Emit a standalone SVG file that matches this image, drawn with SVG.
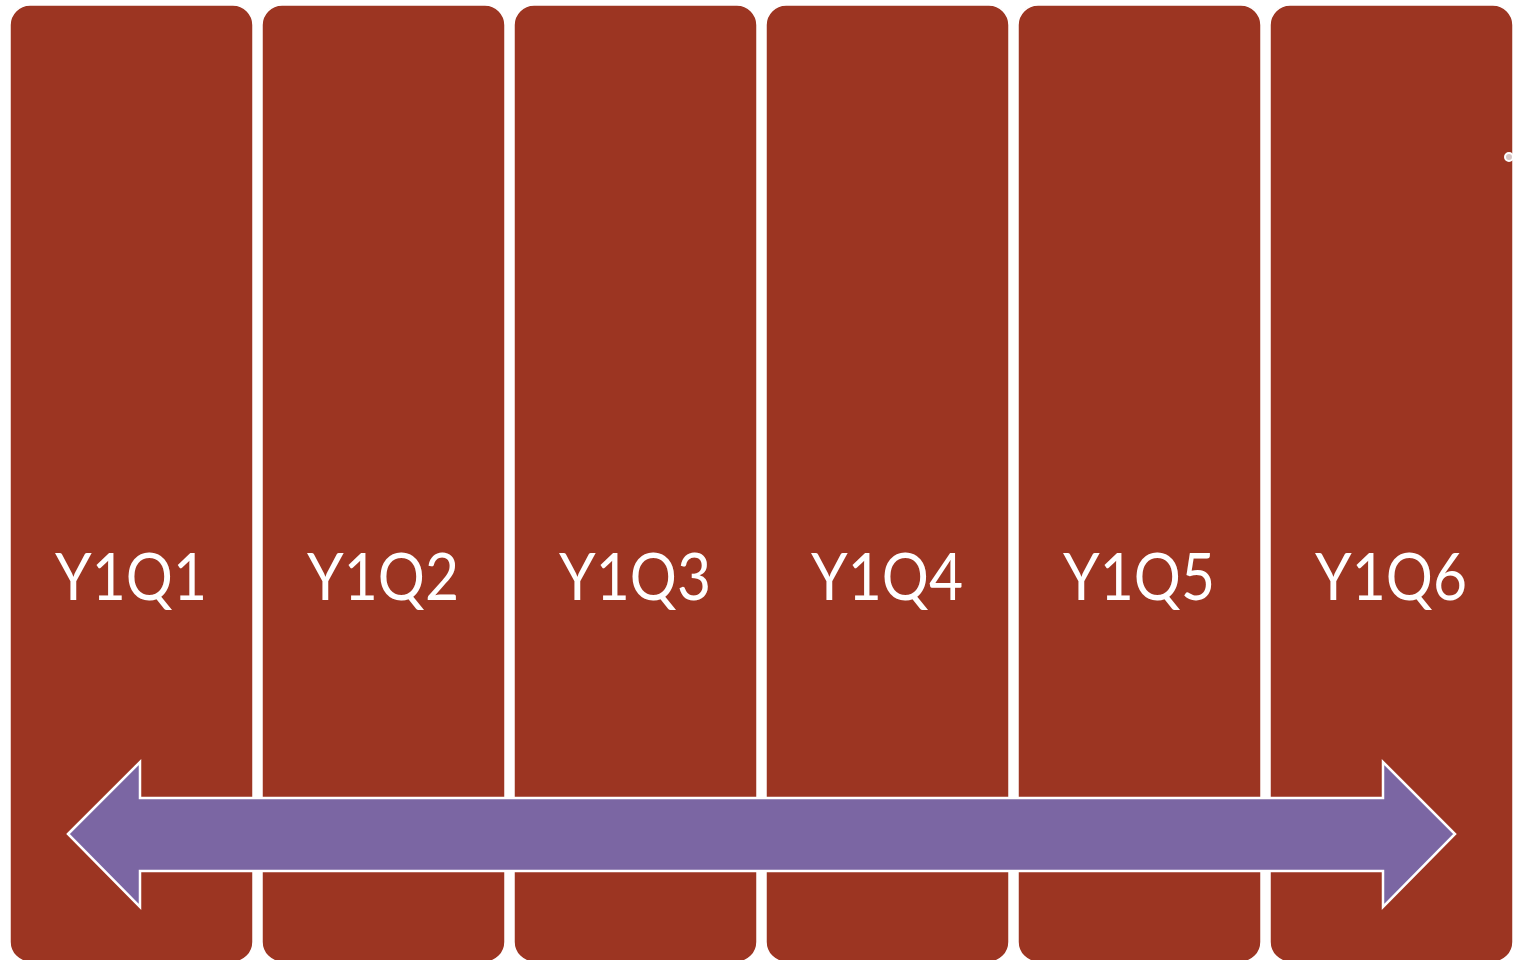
<svg xmlns="http://www.w3.org/2000/svg" width="1515" height="960" viewBox="0 0 1515 960">
<style>
.col{fill:#9C3522;stroke:#ffffff;stroke-width:1.5}
.lbl{font-family:Lato,"Liberation Sans",Arial,sans-serif;font-size:66px;fill:#ffffff;text-anchor:middle}
.arrow{fill:#7B66A3;stroke:#ffffff;stroke-width:2.5}
</style>
<rect width="1515" height="960" fill="#ffffff"/>
<g id="node-y1q1"><rect class="col" x="10" y="5" width="243" height="957" rx="20"/><text class="lbl" x="131" y="600" textLength="152" lengthAdjust="spacingAndGlyphs">Y1Q1</text></g>
<g id="node-y1q2"><rect class="col" x="262" y="5" width="243" height="957" rx="20"/><text class="lbl" x="383" y="600" textLength="152" lengthAdjust="spacingAndGlyphs">Y1Q2</text></g>
<g id="node-y1q3"><rect class="col" x="514" y="5" width="243" height="957" rx="20"/><text class="lbl" x="635" y="600" textLength="152" lengthAdjust="spacingAndGlyphs">Y1Q3</text></g>
<g id="node-y1q4"><rect class="col" x="766" y="5" width="243" height="957" rx="20"/><text class="lbl" x="887" y="600" textLength="152" lengthAdjust="spacingAndGlyphs">Y1Q4</text></g>
<g id="node-y1q5"><rect class="col" x="1018" y="5" width="243" height="957" rx="20"/><text class="lbl" x="1139" y="600" textLength="152" lengthAdjust="spacingAndGlyphs">Y1Q5</text></g>
<g id="node-y1q6"><rect class="col" x="1270" y="5" width="243" height="957" rx="20"/><text class="lbl" x="1391" y="600" textLength="152" lengthAdjust="spacingAndGlyphs">Y1Q6</text></g>
<g id="connectors">
<polygon class="arrow" points="68,834 140,762 140,798 1383,798 1383,762 1455,834 1383,907 1383,871 140,871 140,907"/>
</g>
<circle cx="1509" cy="157" r="4" fill="#d6c6c6" stroke="#ffffff" stroke-width="2"/>
</svg>
